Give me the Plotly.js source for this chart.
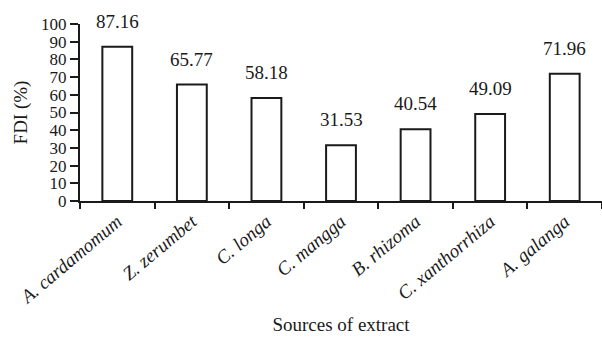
<!DOCTYPE html>
<html>
<head>
<meta charset="utf-8">
<script src="https://cdn.plot.ly/plotly-3.0.1.min.js"></script>
<style>html,body{margin:0;padding:0;background:#fff;}#chart{width:602px;height:339px;}</style>
</head>
<body>
<div id="chart"></div>
<script>
const categories = ["A. cardamomum", "Z. zerumbet", "C. longa", "C. mangga", "B. rhizoma", "C. xanthorrhiza", "A. galanga"];
const fdiValues = [87.16, 65.77, 58.18, 31.53, 40.54, 49.09, 71.96];
const valueLabels = ["87.16", "65.77", "58.18", "31.53", "40.54", "49.09", "71.96"];
const yTicks = [0, 10, 20, 30, 40, 50, 60, 70, 80, 90, 100];

const FONT = "Liberation Serif, Times New Roman, serif";
const INK = "#1a1a1a";

const trace = {
  type: "bar",
  x: categories,
  y: fdiValues,
  width: 0.4,
  marker: {color: "#ffffff", line: {color: INK, width: 2}},
  hoverinfo: "none"
};

const annotations = categories.map((c, i) => ({
  x: c, y: fdiValues[i], text: valueLabels[i],
  xref: "x", yref: "y", showarrow: false,
  yanchor: "bottom", yshift: 13,
  font: {family: FONT, size: 19, color: INK}
}));

const layout = {
  width: 602, height: 339,
  margin: {l: 80, r: 0, t: 24, b: 138},
  paper_bgcolor: "#fff", plot_bgcolor: "#fff",
  showlegend: false,
  font: {family: FONT, size: 19, color: INK},
  xaxis: {
    type: "category",
    range: [-0.5, 6.5],
    showline: true, linecolor: INK, linewidth: 2,
    ticks: "outside", tickson: "boundaries", ticklen: 6, tickwidth: 2, tickcolor: INK,
    tickangle: -40,
    tickfont: {family: FONT, size: 19, color: INK, style: "italic"},
    showgrid: false, zeroline: false,
    title: {text: "Sources of extract", font: {family: FONT, size: 19, color: INK}, standoff: 10}
  },
  yaxis: {
    range: [0, 100],
    tickvals: yTicks,
    ticktext: yTicks.map(String),
    showline: true, linecolor: INK, linewidth: 2,
    ticks: "outside", ticklen: 8, tickwidth: 2, tickcolor: INK,
    tickfont: {family: FONT, size: 17, color: INK},
    showgrid: false, zeroline: false,
    title: {text: "FDI (%)", font: {family: FONT, size: 19, color: INK}, standoff: 8}
  },
  annotations: annotations
};

Plotly.newPlot("chart", [trace], layout, {staticPlot: true, displayModeBar: false});
</script>
</body>
</html>
